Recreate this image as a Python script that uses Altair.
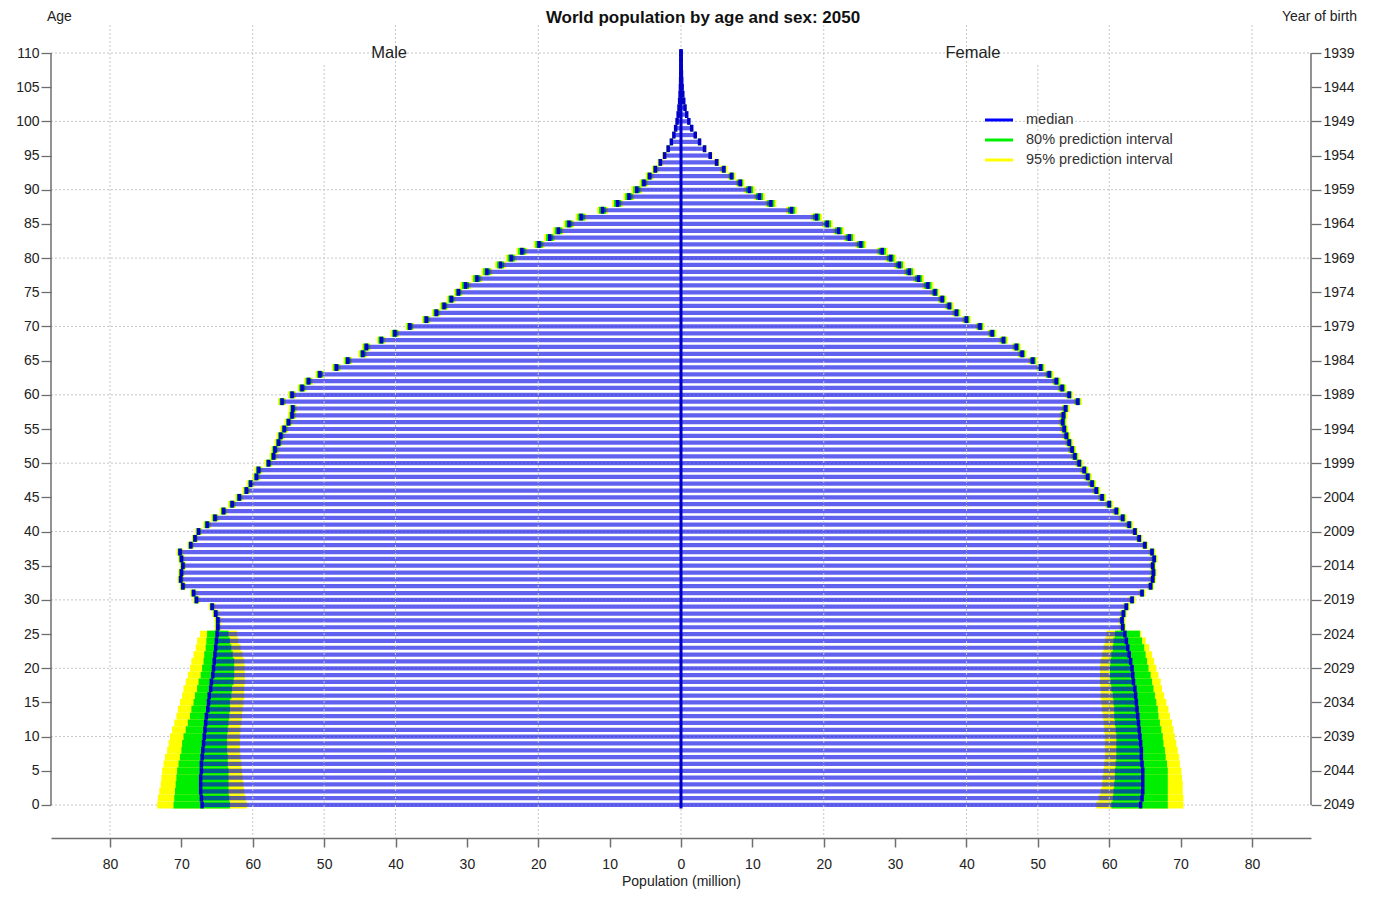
import altair as alt
import pandas as pd

# ---------------- data ----------------
ages = list(range(0, 111))

male_median = [
    67.1, 67.2, 67.3, 67.3, 67.3, 67.2, 67.2, 67.1, 67.0, 66.9,
    66.8, 66.7, 66.6, 66.5, 66.3, 66.2, 66.1, 65.9, 65.8, 65.6,
    65.5, 65.4, 65.3, 65.2, 65.1, 65.0, 64.9, 64.9, 65.2, 65.7,
    67.9, 68.3, 69.8, 70.1, 70.0, 69.8, 70.0, 70.2, 68.7, 68.1,
    67.6, 66.4, 65.3, 64.1, 62.9, 61.9, 60.9, 60.3, 59.5, 59.2,
    57.8, 57.1, 56.9, 56.4, 56.1, 55.6, 55.0, 54.5, 54.4, 55.9,
    54.5, 53.1, 52.2, 50.6, 48.3, 46.7, 44.6, 44.1, 42.0, 40.1,
    38.0, 35.7, 34.3, 33.2, 32.2, 31.2, 30.2, 28.6, 27.2, 25.3,
    23.8, 22.3, 19.9, 18.4, 17.2, 15.7, 14.0, 11.0, 8.9, 7.3,
    6.2, 5.2, 4.4, 3.6, 2.9, 2.3, 1.8, 1.35, 1.0, 0.75,
    0.55, 0.4, 0.28, 0.19, 0.13, 0.08, 0.05, 0.03, 0.02, 0.01, 0.005,
]

female_median = [
    64.4, 64.6, 64.7, 64.7, 64.7, 64.7, 64.6, 64.5, 64.5, 64.4,
    64.3, 64.2, 64.1, 64.0, 63.9, 63.8, 63.7, 63.6, 63.4, 63.3,
    63.2, 63.0, 62.8, 62.6, 62.4, 62.2, 61.9, 61.8, 62.0, 62.4,
    63.2, 64.6, 65.8, 66.1, 66.2, 66.1, 66.3, 66.0, 65.0, 64.2,
    63.6, 62.8, 61.9, 61.0, 60.0, 59.0, 58.2, 57.6, 57.0, 56.5,
    55.8, 55.2, 54.8, 54.4, 54.0, 53.7, 53.5, 53.6, 53.9, 55.6,
    54.4, 53.4, 52.6, 51.6, 50.4, 49.3, 47.8, 47.0, 45.2, 43.6,
    41.9, 40.0, 38.6, 37.6, 36.6, 35.6, 34.6, 33.3, 32.0, 30.6,
    29.4, 28.2, 25.2, 23.6, 22.1, 20.5, 19.0, 15.5, 12.6, 11.0,
    9.6, 8.3, 7.1, 6.0, 5.0, 4.1, 3.3, 2.6, 2.0, 1.5,
    1.1, 0.8, 0.56, 0.38, 0.25, 0.16, 0.1, 0.06, 0.035, 0.02, 0.01,
]

# prediction bounds for ages 0-25 (cohorts not yet born: wide intervals)
male_lo95_young = [60.8, 61.0, 61.2, 61.3, 61.4, 61.5, 61.6, 61.7, 61.8, 61.8,
                   61.8, 61.7, 61.6, 61.5, 61.4, 61.3, 61.2, 61.2, 61.1, 61.1,
                   61.1, 61.2, 61.4, 61.7, 62.0, 62.2]
male_lo80_young = [63.2, 63.3, 63.4, 63.4, 63.4, 63.4, 63.5, 63.5, 63.6, 63.6,
                   63.6, 63.5, 63.4, 63.3, 63.2, 63.2, 63.0, 62.9, 62.7, 62.6,
                   62.6, 62.6, 62.8, 63.0, 63.2, 63.4]
male_hi80_young = [71.1, 71.0, 70.9, 70.8, 70.7, 70.6, 70.4, 70.2, 70.0, 69.9,
                   69.7, 69.4, 69.1, 68.8, 68.6, 68.3, 68.1, 67.8, 67.6, 67.3,
                   67.1, 66.9, 66.8, 66.6, 66.5, 66.4]
male_hi95_young = [73.4, 73.3, 73.1, 72.9, 72.8, 72.7, 72.5, 72.3, 72.0, 71.8,
                   71.6, 71.3, 71.0, 70.7, 70.5, 70.2, 69.9, 69.7, 69.4, 69.1,
                   68.8, 68.6, 68.3, 68.0, 67.8, 67.4]

female_lo95_young = [58.2, 58.5, 58.8, 59.0, 59.1, 59.2, 59.3, 59.4, 59.4, 59.4,
                     59.4, 59.3, 59.2, 59.1, 59.0, 58.9, 58.8, 58.8, 58.7, 58.7,
                     58.7, 58.8, 59.0, 59.2, 59.4, 59.6]
female_lo80_young = [60.3, 60.5, 60.6, 60.7, 60.8, 60.8, 60.9, 61.0, 61.0, 61.0,
                     61.0, 60.9, 60.8, 60.7, 60.7, 60.6, 60.5, 60.3, 60.2, 60.1,
                     60.1, 60.2, 60.3, 60.5, 60.6, 60.8]
female_hi80_young = [68.2, 68.2, 68.2, 68.2, 68.2, 68.2, 68.1, 67.9, 67.8, 67.6,
                     67.5, 67.3, 67.1, 66.9, 66.8, 66.6, 66.4, 66.2, 66.0, 65.8,
                     65.5, 65.3, 65.1, 64.9, 64.6, 64.3]
female_hi95_young = [70.4, 70.4, 70.3, 70.3, 70.2, 70.1, 69.9, 69.8, 69.6, 69.4,
                     69.2, 69.0, 68.8, 68.5, 68.3, 68.0, 67.7, 67.4, 67.2, 66.9,
                     66.6, 66.3, 66.0, 65.6, 65.1, 64.5]

# half-widths of the prediction intervals for ages 26-110
halfwidth80_old = [0.3, 0.3, 0.3, 0.3, 0.3, 0.3, 0.3, 0.3, 0.3, 0.3, 0.3, 0.3, 0.3, 0.3, 0.3,
                   0.35, 0.35, 0.35, 0.35, 0.35, 0.35, 0.35, 0.35, 0.35, 0.35,
                   0.35, 0.35, 0.35, 0.35, 0.35, 0.35, 0.35, 0.35, 0.35, 0.35,
                   0.4, 0.4, 0.4, 0.4, 0.4, 0.4, 0.4, 0.4, 0.4, 0.4, 0.4, 0.4, 0.4, 0.4, 0.4,
                   0.5, 0.5, 0.5, 0.5, 0.5, 0.5, 0.5, 0.5, 0.5, 0.5, 0.5, 0.5, 0.5, 0.5, 0.5,
                   0.4, 0.35, 0.3, 0.25, 0.2, 0.18, 0.15, 0.12, 0.1, 0.08,
                   0.06, 0.05, 0.04, 0.03, 0.02, 0.015, 0.01, 0.01, 0.005, 0.005]
halfwidth95_old = [0.45, 0.45, 0.45, 0.45, 0.45, 0.45, 0.45, 0.45, 0.45, 0.45, 0.45, 0.45, 0.45, 0.45, 0.45,
                   0.55, 0.55, 0.55, 0.55, 0.55, 0.55, 0.55, 0.55, 0.55, 0.55,
                   0.55, 0.55, 0.55, 0.55, 0.55, 0.55, 0.55, 0.55, 0.55, 0.55,
                   0.6, 0.6, 0.6, 0.6, 0.6, 0.6, 0.6, 0.6, 0.6, 0.6, 0.6, 0.6, 0.6, 0.6, 0.6,
                   0.75, 0.75, 0.75, 0.75, 0.75, 0.75, 0.75, 0.75, 0.75, 0.75, 0.75, 0.75, 0.75, 0.75, 0.75,
                   0.6, 0.55, 0.5, 0.4, 0.33, 0.28, 0.22, 0.18, 0.15, 0.12,
                   0.09, 0.07, 0.05, 0.04, 0.03, 0.02, 0.015, 0.01, 0.008, 0.005]

x_ticks = [-80, -70, -60, -50, -40, -30, -20, -10, 0, 10, 20, 30, 40, 50, 60, 70, 80]
age_ticks = [0, 5, 10, 15, 20, 25, 30, 35, 40, 45, 50, 55, 60, 65, 70, 75, 80, 85, 90, 95, 100, 105, 110]
grid_ages = [0, 10, 20, 30, 40, 50, 60, 70, 80, 90, 100, 110]
grid_pop = [-80, -60, -40, -20, 0, 20, 40, 60, 80]
grid_pop_short = [-50, 50]
last_year_of_birth = 2049

sex_labels = ["Male", "Female"]
legend_labels = ["median", "80% prediction interval", "95% prediction interval"]
legend_colors = ["#0000ff", "#00ee00", "#ffff00"]
title_text = "World population by age and sex: 2050"

# ---------------- build table ----------------
rows = []
for sex, sign, med, lo95y, lo80y, hi80y, hi95y in [
    ("Male", -1, male_median, male_lo95_young, male_lo80_young, male_hi80_young, male_hi95_young),
    ("Female", 1, female_median, female_lo95_young, female_lo80_young, female_hi80_young, female_hi95_young),
]:
    n_young = len(lo80y)
    for i, a in enumerate(ages):
        m = med[i]
        if i < n_young:
            l95, l80, h80, h95 = lo95y[i], lo80y[i], hi80y[i], hi95y[i]
        else:
            j = i - n_young
            l80, h80 = max(m - halfwidth80_old[j], 0), m + halfwidth80_old[j]
            l95, h95 = max(m - halfwidth95_old[j], 0), m + halfwidth95_old[j]
        rows.append(dict(age=a, sex=sex, med=sign * m, lo80=sign * l80, hi80=sign * h80,
                         lo95=sign * l95, hi95=sign * h95))
df = pd.DataFrame(rows)
range_df = pd.DataFrame({"lo": [ages[0]], "hi": [ages[-1]]})

# ---------------- chart ----------------
FONT = "Liberation Sans"
W, H = 1260, 813
xs = alt.Scale(domain=[-88.27, 88.27], nice=False, zero=False)
ys = alt.Scale(domain=[-4.83, 114.1], nice=False, zero=False)
GRID = "#c6c6c6"
AXC = "#6e6e6e"

hgrid = alt.Chart(pd.DataFrame({"g": grid_ages})).mark_rule(
    color=GRID, strokeDash=[2, 2], strokeWidth=1
).encode(y=alt.Y("g:Q", scale=ys, axis=None), x=alt.value(0), x2=alt.value(W))

base = alt.Chart(df).transform_calculate(
    r0="datum.age - 0.5", r1="datum.age + 0.5",
    b0="datum.age - 0.31", b1="datum.age + 0.31", zero="0"
)

band95 = base.mark_rect(color="#ffff00").encode(
    x=alt.X("lo95:Q", scale=xs, axis=None), x2="hi95:Q",
    y=alt.Y("r0:Q", scale=ys, axis=None), y2="r1:Q")
band80 = base.mark_rect(color="#00ee00").encode(
    x=alt.X("lo80:Q", scale=xs, axis=None), x2="hi80:Q",
    y=alt.Y("r0:Q", scale=ys, axis=None), y2="r1:Q")

x_axis = alt.Axis(
    values=x_ticks, labelExpr="abs(datum.value)", title="Population (million)",
    orient="bottom", grid=False, domainColor=AXC, domainWidth=1.5,
    tickColor=AXC, tickWidth=1.5, tickSize=9, labelPadding=10,
    labelFont=FONT, labelFontSize=14, labelColor="#222",
    titleFont=FONT, titleFontSize=14, titleFontWeight="normal", titleColor="#222",
    titlePadding=3,
)
bars = base.mark_rect(color="#0000e6", opacity=0.62).encode(
    x=alt.X("med:Q", scale=xs, axis=x_axis), x2="zero:Q",
    y=alt.Y("b0:Q", scale=ys, axis=None), y2="b1:Q")

vgrid = alt.Chart(pd.DataFrame({"v": grid_pop})).mark_rule(
    color=GRID, strokeDash=[2, 2], strokeWidth=1
).encode(x=alt.X("v:Q", scale=xs, axis=None), y=alt.value(0), y2=alt.value(H))
vgrid_short = alt.Chart(pd.DataFrame({"v": grid_pop_short})).mark_rule(
    color=GRID, strokeDash=[2, 2], strokeWidth=1
).encode(x=alt.X("v:Q", scale=xs, axis=None), y=alt.value(40), y2=alt.value(H))

medians = base.mark_rule(color="#0000c8", strokeWidth=3.5).encode(
    x=alt.X("med:Q", scale=xs, axis=None),
    y=alt.Y("r0:Q", scale=ys, axis=None), y2="r1:Q")

center = alt.Chart(range_df).transform_calculate(
    lo2="datum.lo - 0.5", hi2="datum.hi + 0.6", zero="0"
).mark_rule(color="#0000c8", strokeWidth=3).encode(
    x=alt.X("zero:Q", scale=xs, axis=None),
    y=alt.Y("lo2:Q", scale=ys, axis=None), y2="hi2:Q")

left_axis = alt.Axis(
    orient="left", values=age_ticks, domain=False, grid=False, title=None,
    tickColor=AXC, tickWidth=1.3, tickSize=10, labelPadding=2,
    labelFont=FONT, labelFontSize=14, labelColor="#222")
right_axis = alt.Axis(
    orient="right", values=age_ticks, domain=False, grid=False, title=None,
    labelExpr=f"{last_year_of_birth} - datum.value",
    tickColor=AXC, tickWidth=1.3, tickSize=10, labelPadding=2,
    labelFont=FONT, labelFontSize=14, labelColor="#222")

left_line = alt.Chart(range_df).mark_rule(color=AXC, strokeWidth=1.5).encode(
    x=alt.value(0), y=alt.Y("lo:Q", scale=ys, axis=left_axis), y2="hi:Q")
right_line = alt.Chart(range_df).mark_rule(color=AXC, strokeWidth=1.5).encode(
    x=alt.value(W), y=alt.Y("lo:Q", scale=ys, axis=right_axis), y2="hi:Q")

sex_text = alt.Chart(pd.DataFrame({"label": sex_labels, "pos": [-40.9, 40.9], "a": [110, 110]})).mark_text(
    font=FONT, fontSize=16.5, color="#222", baseline="middle", align="center"
).encode(x=alt.X("pos:Q", scale=xs, axis=None), y=alt.Y("a:Q", scale=ys, axis=None), text="label:N")

title = alt.Chart(pd.DataFrame({"label": [title_text]})).mark_text(
    font=FONT, fontSize=17, fontWeight="bold", color="#111", align="center", baseline="alphabetic"
).encode(x=alt.value(652), y=alt.value(-2), text="label:N")
age_title = alt.Chart(pd.DataFrame({"label": ["Age"]})).mark_text(
    font=FONT, fontSize=14, color="#222", align="left", baseline="middle"
).encode(x=alt.value(-4), y=alt.value(-8), text="label:N")
yob_title = alt.Chart(pd.DataFrame({"label": ["Year of birth"]})).mark_text(
    font=FONT, fontSize=14, color="#222", align="right", baseline="middle"
).encode(x=alt.value(1306), y=alt.value(-8), text="label:N")

legend_layers = []
for i, (lab, col) in enumerate(zip(legend_labels, legend_colors)):
    yy = 95 + 20 * i
    ldf = pd.DataFrame({"label": [lab]})
    legend_layers.append(alt.Chart(ldf).mark_rule(color=col, strokeWidth=3).encode(
        x=alt.value(934), x2=alt.value(962), y=alt.value(yy)))
    legend_layers.append(alt.Chart(ldf).mark_text(
        font=FONT, fontSize=14.5, color="#333", align="left", baseline="middle"
    ).encode(x=alt.value(975), y=alt.value(yy), text="label:N"))

chart = alt.layer(
    hgrid, band95, band80, bars, vgrid, vgrid_short, medians, center,
    left_line, right_line, sex_text, title, age_title, yob_title, *legend_layers
).resolve_axis(x="independent", y="independent").properties(
    width=W, height=H,
    autosize=alt.AutoSizeParams(type="none"),
    padding={"left": 43, "top": 17, "right": 47, "bottom": 51},
).configure_view(stroke=None)

chart.save("out.html", embed_options={"renderer": "svg", "actions": False})
